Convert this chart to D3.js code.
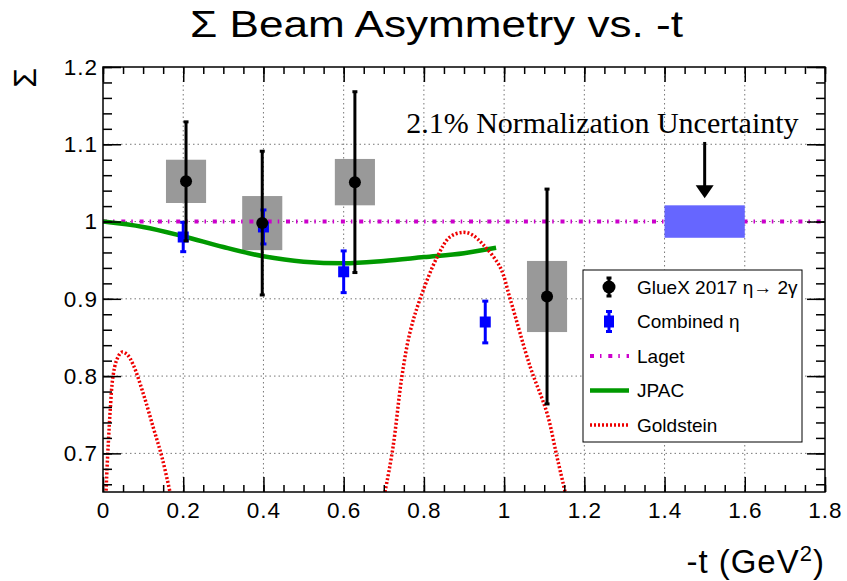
<!DOCTYPE html>
<html>
<head>
<meta charset="utf-8">
<script src="https://cdn.jsdelivr.net/npm/d3@7"></script>
<style>
  body { margin: 0; background: #fff; }
  svg { display: block; font-family: 'Liberation Sans', Arial, sans-serif; }
  .grid line { stroke: #777; stroke-width: 1; stroke-dasharray: 1.5 3; }
  .axis path { display: none; }
  .axis line { stroke: #000; stroke-width: 1.5; }
  .axis text { font-size: 22.5px; letter-spacing: 1px; fill: #000; font-family: 'Liberation Sans', Arial, sans-serif; }
  .legend-text { font-size: 19px; dominant-baseline: central; }
</style>
</head>
<body>
<svg class="chart" width="847" height="581"></svg>
<script>
// axis ticks
const xTicks = [0, 0.2, 0.4, 0.6, 0.8, 1, 1.2, 1.4, 1.6, 1.8];
const yTicks = [0.7, 0.8, 0.9, 1, 1.1, 1.2];
const xMinor = d3.range(0, 1.8001, 0.05);
const yMinor = d3.range(0.66, 1.2001, 0.02);

// GlueX 2017 eta -> 2 gamma
const gluexT = [0.207, 0.397, 0.628, 1.107];
const gluexSigma = [1.052, 0.998, 1.051, 0.903];
const gluexStat = [0.077, 0.093, 0.117, 0.139];
const gluexSys = [0.028, 0.035, 0.030, 0.046];

// Combined eta
const combT = [0.2, 0.4, 0.6, 0.953];
const combSigma = [0.980, 0.993, 0.935, 0.870];
const combErr = [0.019, 0.022, 0.027, 0.027];

// models
const lagetT = [0, 1.8];
const lagetSigma = [1.0, 1.0];
const jpacT = [0, 0.1, 0.2, 0.3, 0.4, 0.5, 0.6, 0.7, 0.8, 0.9, 0.98];
const jpacSigma = [1.0, 0.993, 0.981, 0.967, 0.955, 0.948, 0.946, 0.949, 0.954, 0.959, 0.966];
const goldLowT = [0.004, 0.01, 0.014, 0.018, 0.025, 0.035, 0.047, 0.06, 0.075, 0.1, 0.125, 0.147, 0.167, 0.175];
const goldLowSigma = [0.6, 0.68, 0.72, 0.756, 0.80, 0.822, 0.831, 0.828, 0.815, 0.778, 0.734, 0.695, 0.65, 0.63];
const goldHighT = [0.695, 0.703, 0.723, 0.745, 0.765, 0.79, 0.833, 0.865, 0.898, 0.92, 0.948, 0.99, 1.015, 1.065, 1.107, 1.132, 1.152, 1.16];
const goldHighSigma = [0.63, 0.65, 0.708, 0.799, 0.856, 0.899, 0.954, 0.980, 0.986, 0.983, 0.970, 0.941, 0.90, 0.812, 0.752, 0.695, 0.65, 0.63];

// normalization uncertainty band
const normT = [1.4, 1.6];
const normSigma = 1.0;
const normUnc = 0.021;

const svg = d3.select('.chart');
const margin = { top: 67, left: 103, right: 22, bottom: 89 };
const width = 847 - margin.left - margin.right;
const height = 581 - margin.top - margin.bottom;
const x = d3.scaleLinear().domain([0, 1.8]).range([margin.left, margin.left + width]);
const y = d3.scaleLinear().domain([0.65, 1.2]).range([margin.top + height, margin.top]);

svg.append('defs').append('clipPath').attr('id', 'plotClip')
  .append('rect').attr('x', margin.left).attr('y', margin.top).attr('width', width).attr('height', height);

// grid
const grid = svg.append('g').classed('grid', true);
grid.selectAll('.gx').data(xTicks.slice(1, -1)).enter().append('line')
  .attr('x1', d => x(d)).attr('x2', d => x(d)).attr('y1', margin.top).attr('y2', margin.top + height);
grid.selectAll('.gy').data(yTicks.slice(0, -1)).enter().append('line')
  .attr('x1', margin.left).attr('x2', margin.left + width).attr('y1', d => y(d)).attr('y2', d => y(d));

const plot = svg.append('g').attr('clip-path', 'url(#plotClip)');

// systematic boxes
plot.selectAll('.sys').data(gluexT).enter().append('rect')
  .attr('x', d => x(d - 0.05)).attr('width', x(0.1) - x(0))
  .attr('y', (d, i) => y(gluexSigma[i] + gluexSys[i]))
  .attr('height', (d, i) => y(gluexSigma[i] - gluexSys[i]) - y(gluexSigma[i] + gluexSys[i]))
  .attr('fill', '#999');

const line = d3.line().x(d => x(d[0])).y(d => y(d[1]));
const zip = (a, b) => a.map((v, i) => [v, b[i]]);

// Laget
plot.append('path').datum(zip(lagetT, lagetSigma)).attr('d', line)
  .attr('fill', 'none').attr('stroke', '#cc00cc').attr('stroke-width', 4)
  .attr('stroke-dasharray', '4 6 1.5 6.8');

// JPAC
plot.append('path').datum(zip(jpacT, jpacSigma)).attr('d', line.curve(d3.curveMonotoneX))
  .attr('fill', 'none').attr('stroke', '#009900').attr('stroke-width', 4.5);

// Goldstein
const goldLine = d3.line().x(d => x(d[0])).y(d => y(d[1])).curve(d3.curveCatmullRom);
[zip(goldLowT, goldLowSigma), zip(goldHighT, goldHighSigma)].forEach((seg) => {
  plot.append('path').datum(seg).attr('d', goldLine)
    .attr('fill', 'none').attr('stroke', '#ee0000').attr('stroke-width', 3.5)
    .attr('stroke-dasharray', '2 2');
});

// normalization band
plot.append('rect')
  .attr('x', x(normT[0])).attr('width', x(normT[1]) - x(normT[0]))
  .attr('y', y(normSigma + normUnc)).attr('height', y(normSigma - normUnc) - y(normSigma + normUnc))
  .attr('fill', '#6666ff');

const drawErrorBar = (g, cx, y1, y2, color, cap) => {
  g.append('line').attr('x1', cx).attr('x2', cx).attr('y1', y1).attr('y2', y2)
    .attr('stroke', color).attr('stroke-width', 3);
  [y1, y2].forEach((yy) => {
    g.append('line').attr('x1', cx - cap / 2).attr('x2', cx + cap / 2).attr('y1', yy).attr('y2', yy)
      .attr('stroke', color).attr('stroke-width', 3);
  });
};

// combined eta points
const combG = plot.append('g');
combT.forEach((t, i) => {
  drawErrorBar(combG, x(t), y(combSigma[i] + combErr[i]), y(combSigma[i] - combErr[i]), '#0000ff', 6);
});
combG.selectAll('rect').data(combT).enter().append('rect')
  .attr('x', d => x(d) - 5.5).attr('y', (d, i) => y(combSigma[i]) - 5.5)
  .attr('width', 11).attr('height', 11).attr('fill', '#0000ff');

// GlueX points
const gluexG = plot.append('g');
gluexT.forEach((t, i) => {
  drawErrorBar(gluexG, x(t), y(gluexSigma[i] + gluexStat[i]), y(gluexSigma[i] - gluexStat[i]), '#000', 5);
});
gluexG.selectAll('circle').data(gluexT).enter().append('circle')
  .attr('cx', d => x(d)).attr('cy', (d, i) => y(gluexSigma[i])).attr('r', 6).attr('fill', '#000');

// axes: ticks inward on four sides
const axes = svg.append('g');
axes.append('g').classed('axis', true).attr('transform', `translate(0,${margin.top + height})`)
  .call(d3.axisBottom(x).tickValues(xTicks).tickSize(-15).tickPadding(10).tickFormat(d3.format('~g')));
axes.append('g').classed('axis', true).attr('transform', `translate(0,${margin.top + height})`)
  .call(d3.axisBottom(x).tickValues(xMinor).tickSize(-7).tickFormat(''));
axes.append('g').classed('axis', true).attr('transform', `translate(0,${margin.top})`)
  .call(d3.axisTop(x).tickValues(xTicks).tickSize(-15).tickFormat(''));
axes.append('g').classed('axis', true).attr('transform', `translate(0,${margin.top})`)
  .call(d3.axisTop(x).tickValues(xMinor).tickSize(-7).tickFormat(''));
axes.append('g').classed('axis', true).attr('transform', `translate(${margin.left},0)`)
  .call(d3.axisLeft(y).tickValues(yTicks).tickSize(-18).tickPadding(5).tickFormat(d3.format('~g')));
axes.append('g').classed('axis', true).attr('transform', `translate(${margin.left},0)`)
  .call(d3.axisLeft(y).tickValues(yMinor).tickSize(-9).tickFormat(''));
axes.append('g').classed('axis', true).attr('transform', `translate(${margin.left + width},0)`)
  .call(d3.axisRight(y).tickValues(yTicks).tickSize(-18).tickFormat(''));
axes.append('g').classed('axis', true).attr('transform', `translate(${margin.left + width},0)`)
  .call(d3.axisRight(y).tickValues(yMinor).tickSize(-9).tickFormat(''));
axes.append('rect').attr('x', margin.left).attr('y', margin.top).attr('width', width).attr('height', height)
  .attr('fill', 'none').attr('stroke', '#000').attr('stroke-width', 1.5);

// titles
svg.append('text').attr('x', 190).attr('y', 37).attr('font-size', 37)
  .attr('textLength', 493).attr('lengthAdjust', 'spacingAndGlyphs')
  .text('Σ Beam Asymmetry vs. -t');

svg.append('text').attr('transform', `translate(36,${margin.top + 1}) rotate(-90)`)
  .attr('text-anchor', 'end').attr('font-size', 32).text('Σ');

const xLabel = svg.append('text').attr('x', margin.left + width).attr('y', 573)
  .attr('text-anchor', 'end').attr('font-size', 33).attr('letter-spacing', 1);
xLabel.append('tspan').text('-t (GeV');
xLabel.append('tspan').attr('font-size', 22).attr('dy', -12).text('2');
xLabel.append('tspan').attr('dy', 12).text(')');

// normalization annotation
svg.append('text').attr('x', x(1.245)).attr('y', y(1.114)).attr('text-anchor', 'middle')
  .attr('font-family', "'Liberation Serif', 'Times New Roman', serif").attr('font-size', 30)
  .text('2.1% Normalization Uncertainty');
svg.append('line').attr('x1', x(1.5)).attr('x2', x(1.5)).attr('y1', y(1.103)).attr('y2', y(1.045))
  .attr('stroke', '#000').attr('stroke-width', 3);
svg.append('path')
  .attr('d', `M${x(1.5) - 9},${y(1.047)} L${x(1.5) + 9},${y(1.047)} L${x(1.5)},${y(1.030)} Z`)
  .attr('fill', '#000');

// legend
const legend = svg.append('g').attr('transform', 'translate(583,270)');
legend.append('rect').attr('width', 219).attr('height', 172)
  .attr('fill', '#fff').attr('stroke', '#000').attr('stroke-width', 1);
const rowY = i => 17 + i * 34.5;
const legendLabels = ['GlueX 2017 η→ 2γ', 'Combined η', 'Laget', 'JPAC', 'Goldstein'];
legend.selectAll('.legend-text').data(legendLabels).enter().append('text')
  .classed('legend-text', true).attr('x', 54).attr('y', (d, i) => rowY(i)).text(d => d);

drawErrorBar(legend, 26, rowY(0) - 9, rowY(0) + 9, '#000', 5);
legend.append('circle').attr('cx', 26).attr('cy', rowY(0)).attr('r', 6.5).attr('fill', '#000');
drawErrorBar(legend, 26, rowY(1) - 10, rowY(1) + 10, '#0000ff', 6);
legend.append('rect').attr('x', 21).attr('y', rowY(1) - 6).attr('width', 10).attr('height', 12).attr('fill', '#0000ff');
legend.append('line').attr('x1', 7).attr('x2', 46).attr('y1', rowY(2)).attr('y2', rowY(2))
  .attr('stroke', '#cc00cc').attr('stroke-width', 4).attr('stroke-dasharray', '4 6 1.5 6.8');
legend.append('line').attr('x1', 7).attr('x2', 46).attr('y1', rowY(3)).attr('y2', rowY(3))
  .attr('stroke', '#009900').attr('stroke-width', 4.5);
legend.append('line').attr('x1', 7).attr('x2', 46).attr('y1', rowY(4)).attr('y2', rowY(4))
  .attr('stroke', '#ee0000').attr('stroke-width', 3.5).attr('stroke-dasharray', '2 2');
</script>
</body>
</html>
